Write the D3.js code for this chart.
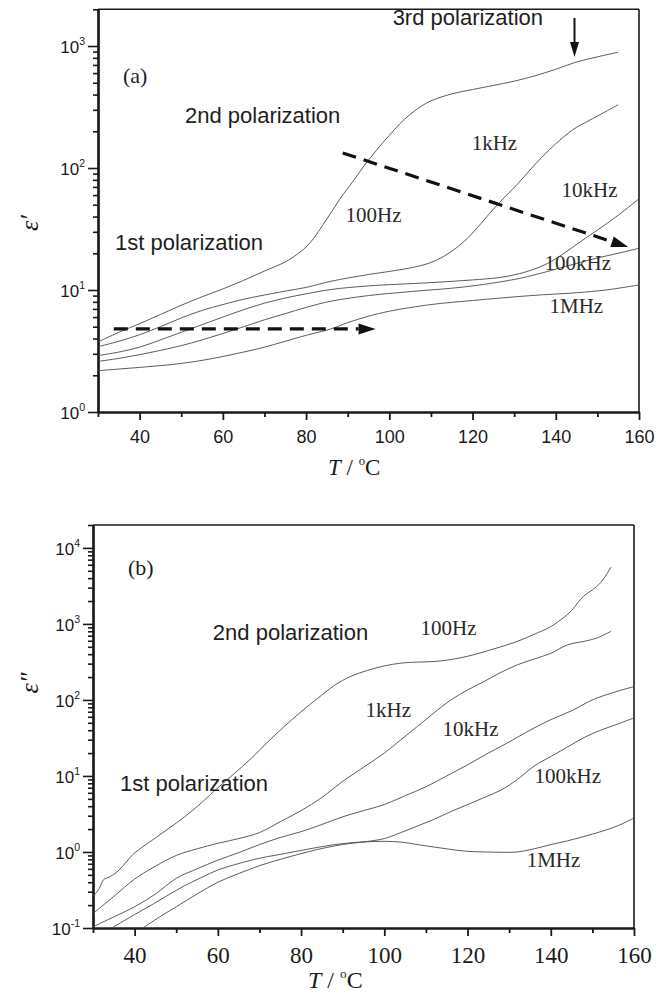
<!DOCTYPE html>
<html><head><meta charset="utf-8">
<script src="https://cdn.jsdelivr.net/npm/d3@7"></script>
<style>body{margin:0;background:#fff}svg{display:block}</style>
</head><body><svg id="c" width="666" height="996"></svg>
<script>
// ---------- DATA ----------
const freqLabels = ["100Hz","1kHz","10kHz","100kHz","1MHz"];
const xTickLabels = [40,60,80,100,120,140,160];
const xMinorTicks = [30,50,70,90,110,130,150];
const yTicksA = [1,10,100,1000];
const yTicksB = [0.1,1,10,100,1000,10000];

// Panel (a): epsilon' vs T
const a100Hz = [[30,3.75],[35,4.5],[40,5.3],[45,6.3],[50,7.5],[55,8.8],[60,10.2],[65,12],[70,14.3],[75,17],[78,19.8],[80,22.5],[82,27],[84,34],[86,43],[88,55],[90,68],[92,84],[94,105],[96,128],[98,155],[100,185],[102.5,230],[105,275],[107.5,318],[110,355],[115,405],[120,440],[125,475],[130,515],[135,570],[140,645],[145,740],[150,815],[155,890]];
const a1kHz = [[30,3.43],[35,3.8],[40,4.3],[45,5.0],[50,5.9],[55,6.8],[60,7.6],[65,8.4],[70,9.1],[75,9.8],[80,10.5],[86,11.8],[95,13.4],[100,14.2],[106,15.4],[110,16.8],[113,18.8],[116,22],[119,27],[122,35],[125,46],[128,59],[131,75],[134,98],[137,126],[140,158],[144,205],[148,245],[152,290],[155,330]];
const a10kHz = [[30,2.9],[35,3.1],[40,3.4],[45,3.9],[50,4.5],[55,5.2],[60,6.0],[65,6.9],[70,7.8],[75,8.6],[80,9.3],[86,10.1],[95,10.8],[110,11.5],[120,12.1],[126,12.6],[130,13.3],[134,14.5],[138,16.5],[142,20],[146,25],[150,31],[155,41],[160,56]];
const a100kHz = [[30,2.6],[35,2.75],[40,2.95],[45,3.2],[50,3.5],[55,3.9],[60,4.4],[65,5.0],[70,5.7],[75,6.4],[80,7.2],[86,8.1],[95,9.0],[105,9.7],[118,10.6],[130,12.2],[136,13.6],[142,15.5],[150,18.3],[155,20],[160,22]];
const a1MHz = [[30,2.18],[35,2.25],[40,2.32],[45,2.4],[50,2.5],[55,2.65],[60,2.85],[65,3.1],[70,3.4],[75,3.8],[80,4.25],[86,4.8],[90,5.4],[95,6.1],[100,6.7],[110,7.6],[120,8.2],[134,9.0],[145,9.5],[152,10],[160,11]];

// Panel (b): epsilon'' vs T
const b100Hz = [[30,0.26],[31.5,0.33],[32.5,0.43],[34,0.47],[36,0.56],[38,0.74],[40,0.97],[44,1.4],[48,2.0],[52,2.9],[56,4.4],[60,7.0],[64,10.8],[68,17],[72,28],[76,45],[80,70],[84,105],[88,155],[92,205],[96,245],[100,280],[104,305],[108,315],[112,320],[116,340],[120,375],[124,430],[128,500],[132,590],[136,730],[140,920],[143,1200],[145,1500],[146.5,1900],[148,2350],[150,2800],[152,3500],[154.5,5600]];
const b1kHz = [[30,0.155],[35,0.26],[40,0.44],[45,0.65],[50,0.9],[55,1.1],[60,1.3],[65,1.5],[70,1.8],[75,2.5],[80,3.5],[85,5.2],[90,8.5],[95,13],[100,20],[104,30],[108,45],[112,68],[116,100],[120,135],[124,175],[128,230],[132,290],[136,345],[140,410],[144,530],[148,590],[151,650],[154.5,800]];
const b10kHz = [[30,0.104],[35,0.14],[40,0.19],[45,0.28],[50,0.45],[55,0.6],[60,0.78],[65,0.98],[70,1.25],[75,1.55],[80,1.85],[85,2.3],[90,2.9],[95,3.5],[100,4.2],[105,5.5],[110,7.2],[115,10],[120,14],[125,20],[130,28],[135,40],[140,55],[145,72],[150,100],[155,125],[160,150]];
const b100kHz = [[34.5,0.1],[40,0.15],[44,0.2],[48,0.27],[52,0.36],[56,0.46],[60,0.58],[64,0.68],[68,0.78],[72,0.87],[76,0.95],[80,1.05],[84,1.15],[88,1.25],[92,1.32],[96,1.38],[100,1.5],[104,1.8],[108,2.2],[112,2.7],[116,3.4],[120,4.2],[124,5.2],[128,6.5],[132,9],[136,13.5],[140,18],[144,24],[148,32],[152,40],[156,48],[160,58]];
const b1MHz = [[42,0.1],[46,0.14],[50,0.19],[55,0.28],[60,0.4],[65,0.52],[70,0.66],[75,0.8],[80,0.95],[84,1.08],[88,1.2],[92,1.3],[96,1.36],[100,1.38],[104,1.35],[108,1.25],[112,1.16],[116,1.08],[120,1.02],[124,1.0],[128,0.99],[132,1.0],[136,1.1],[140,1.25],[144,1.4],[148,1.6],[152,1.85],[156,2.2],[160,2.8]];

// ---------- DRAW ----------
const svg = d3.select('#c');
const INK = '#1a1a1a';

function supLabel(sel, v, size, supSize) {
  const e = Math.round(Math.log10(v));
  const t = sel.append('text').attr('text-anchor','end')
    .attr('font-family','"Liberation Sans", Arial, sans-serif')
    .attr('font-size', size).attr('fill', INK);
  t.append('tspan').text('10');
  t.append('tspan').attr('font-size', supSize).attr('dy', -size*0.45).text(String(e));
  return t;
}

function panel(p) {
  const x = d3.scaleLinear().domain([30,160]).range(p.xr);
  const y = d3.scaleLog().domain(p.yd).range(p.yr);
  const g = svg.append('g');

  g.append('line').attr('x1',p.xr[0]).attr('x2',p.xr[1]).attr('y1',p.yr[1]).attr('y2',p.yr[1])
    .attr('stroke',INK).attr('stroke-width',1.6);
  g.append('line').attr('x1',p.xr[1]).attr('x2',p.xr[1]).attr('y1',p.yr[1]).attr('y2',p.yr[0])
    .attr('stroke',INK).attr('stroke-width',1.6);

  const gx1 = g.append('g').attr('transform',`translate(0,${p.yr[0]})`)
    .call(d3.axisBottom(x).tickValues(xMinorTicks).tickSize(5).tickSizeOuter(0).tickFormat(''));
  const gx2 = g.append('g').attr('transform',`translate(0,${p.yr[0]})`)
    .call(d3.axisBottom(x).tickValues(xTickLabels).tickSize(8).tickSizeOuter(0).tickFormat(d3.format('d')));
  [gx1,gx2].forEach(a=>{
    a.selectAll('.domain').attr('stroke',INK).attr('stroke-width',2.2);
    a.selectAll('.tick line').attr('stroke',INK).attr('stroke-width',1.8);
  });
  gx2.selectAll('.tick text').attr('fill',INK).attr('y',p.xLabOff).attr('dy',0)
    .attr('font-family',p.xLabFont).attr('font-size',p.xLabSize);

  const minors = y.ticks().filter(v => Math.abs(Math.log10(v)-Math.round(Math.log10(v)))>1e-6);
  const gy1 = g.append('g').attr('transform',`translate(${p.xr[0]},0)`)
    .call(d3.axisLeft(y).tickValues(minors).tickSize(5).tickSizeOuter(0).tickFormat(''));
  const gy2 = g.append('g').attr('transform',`translate(${p.xr[0]},0)`)
    .call(d3.axisLeft(y).tickValues(p.yTicks).tickSize(10).tickSizeOuter(0).tickFormat(''));
  [gy1,gy2].forEach(a=>{
    a.selectAll('.domain').attr('stroke',INK).attr('stroke-width',2.2);
    a.selectAll('.tick line').attr('stroke',INK).attr('stroke-width',1.6);
  });
  gy2.selectAll('.tick').each(function(d){
    const t = supLabel(d3.select(this), d, p.yLabSize, p.yLabSize*0.62);
    t.attr('x', p.yLabX - p.xr[0]).attr('y', p.yLabSize*0.36);
  });

  const line = d3.line().x(d=>x(d[0])).y(d=>y(d[1])).curve(d3.curveCatmullRom.alpha(0.5));
  g.append('g').selectAll('path').data(p.series).join('path')
    .attr('d', line).attr('fill','none').attr('stroke','#4a4a4a').attr('stroke-width',0.9);

  g.append('g').selectAll('text').data(p.freqPos).join('text')
    .attr('x', d=>x(d[0])).attr('y', d=>y(d[1]))
    .attr('font-family','"Liberation Serif", "Times New Roman", serif')
    .attr('font-size',21).attr('fill','#2a2a2a')
    .text((d,i)=>freqLabels[i]);

  g.append('g').selectAll('text').data(p.notes).join('text')
    .attr('x', d=>x(d[0])).attr('y', d=>y(d[1]))
    .attr('font-family', d=>d[3]==='serif' ? '"Liberation Serif", serif' : '"Liberation Sans", Arial, sans-serif')
    .attr('font-size', 22).attr('fill', '#1e1e1e')
    .text(d=>d[2]);

  const xt = g.append('text').attr('x', p.xTitle[0]).attr('y', p.xTitle[1])
    .attr('font-family','"Liberation Serif", "Times New Roman", serif').attr('font-size',p.xTitleSize).attr('fill',INK);
  xt.append('tspan').attr('font-style','italic').text('T');
  xt.append('tspan').text(' / ');
  xt.append('tspan').attr('font-size',p.xTitleSize*0.55).attr('dy',-p.xTitleSize*0.42).text('o');
  xt.append('tspan').attr('dy',p.xTitleSize*0.42).text('C');

  g.append('text').attr('transform',`translate(${p.yTitle[0]},${p.yTitle[1]}) rotate(-90)`)
    .attr('text-anchor','middle')
    .attr('font-family','"Liberation Serif", "Times New Roman", serif').attr('font-style','italic')
    .attr('font-size',26).attr('fill',INK).text(p.yTitleText);

  return {x,y,g};
}

function arrowHead(g, x1, y1, x2, y2, len, wid) {
  const ang = Math.atan2(y2-y1, x2-x1);
  const bx = x2 - len*Math.cos(ang), by = y2 - len*Math.sin(ang);
  const nx = -Math.sin(ang)*wid/2, ny = Math.cos(ang)*wid/2;
  g.append('path').attr('d',`M${x2},${y2}L${bx+nx},${by+ny}L${bx-nx},${by-ny}Z`).attr('fill','#111');
  return [bx,by];
}

// Panel (a)
const A = panel({
  xr:[98,639], yd:[1,2000], yr:[412,9.3], yTicks:yTicksA,
  xLabOff:31, xLabFont:'"Liberation Sans", Arial, sans-serif', xLabSize:18,
  yLabX:85, yLabSize:17,
  series:[a100Hz,a1kHz,a10kHz,a100kHz,a1MHz],
  freqPos:[[89.5,36.1],[119.8,140.5],[141.4,57.9],[137.3,14.6],[138.5,6.48]],
  notes:[[36.0,498,'(a)','serif'],[50.9,234,'2nd polarization'],[34.1,21.3,'1st polarization'],[100.8,1486,'3rd polarization']],
  xTitle:[328,475], xTitleSize:23, yTitle:[38,223], yTitleText:'ε\u2032'
});
const dashA = [[[88.8,133],[157.4,22.5]],[[33.8,4.8],[96.7,4.8]]];
dashA.forEach(([s,e])=>{
  const x1=A.x(s[0]), y1=A.y(s[1]), x2=A.x(e[0]), y2=A.y(e[1]);
  const [bx,by] = arrowHead(A.g,x1,y1,x2,y2,17,11);
  A.g.append('line').attr('x1',x1).attr('y1',y1).attr('x2',bx).attr('y2',by)
    .attr('stroke','#111').attr('stroke-width',3.2).attr('stroke-dasharray','14,8');
});
const vArrow = [144.5, 1700, 813];
{
  const x0=A.x(vArrow[0]), y1=A.y(vArrow[1]), y2=A.y(vArrow[2]);
  const [bx,by] = arrowHead(A.g,x0,y1,x0,y2,15,9);
  A.g.append('line').attr('x1',x0).attr('y1',y1).attr('x2',x0).attr('y2',by).attr('stroke','#111').attr('stroke-width',2);
}

// Panel (b)
const B = panel({
  xr:[93,634], yd:[0.1,20000], yr:[928,525], yTicks:yTicksB,
  xLabOff:35, xLabFont:'"Liberation Serif", "Times New Roman", serif', xLabSize:23,
  yLabX:80, yLabSize:17,
  series:[b100Hz,b1kHz,b10kHz,b100kHz,b1MHz],
  freqPos:[[108.7,716],[95.5,59.7],[114,33.6],[136.1,8.09],[134.2,0.635]],
  notes:[[38.4,4415,'(b)','serif'],[58.8,617,'2nd polarization'],[36.5,6.35,'1st polarization']],
  xTitle:[308,988], xTitleSize:24, yTitle:[38,683], yTitleText:'ε\u2033'
});
</script>
</body></html>
